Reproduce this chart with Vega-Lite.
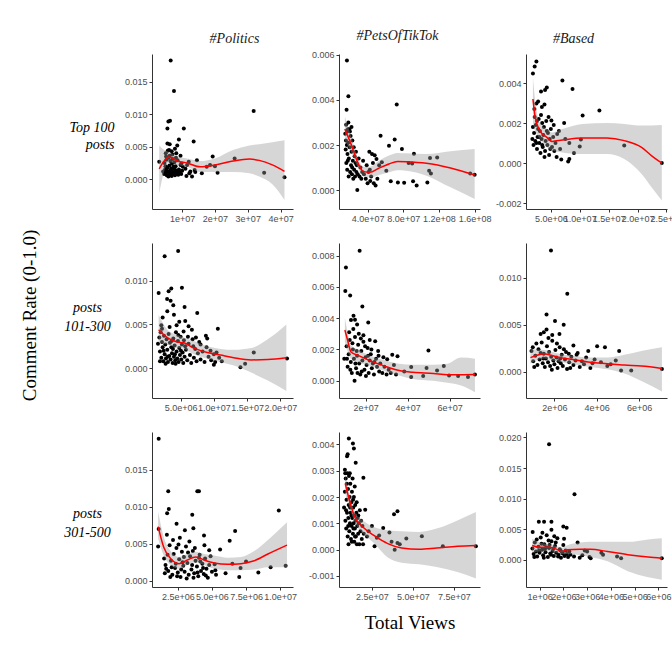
{
"$schema":"https://vega.github.io/schema/vega-lite/v6.json",
"background":"white",
"padding":{"left":20,"top":28,"right":0,"bottom":0},
"title":{"text":"Comment Rate (0-1.0)","orient":"left","anchor":"middle","font":"Liberation Serif","fontSize":19,"fontStyle":"normal","fontWeight":"normal","color":"black","offset":24,"dx":15},
"config":{"view":{"stroke":null},"axis":{"grid":false,"domainColor":"#333333","tickColor":"#333333","labelColor":"#4d4d4d","labelFont":"Liberation Sans","labelFontSize":9,"tickSize":3,"labelPadding":2,"labelFlush":false,"labelOverlap":false,"titleFont":"Liberation Serif","titleFontWeight":"normal","titleColor":"black"},"title":{"font":"Liberation Serif","fontStyle":"italic","fontSize":14,"fontWeight":"normal","color":"#1a1a1a","offset":8}},
"datasets":{
"p1":[{"x":6.5e6,"y":0.0183},{"x":7.5e6,"y":0.0136},{"x":3.18e7,"y":0.0105},{"x":1.05e7,"y":0.0078},{"x":5.5e6,"y":0.0078},{"x":6.3e6,"y":0.009},{"x":5.8e6,"y":0.0089},{"x":9e6,"y":0.0061},{"x":1.35e7,"y":0.0058},{"x":5.5e6,"y":0.0055},{"x":6.2e6,"y":0.0054},{"x":8.5e6,"y":0.0052},{"x":7.8e6,"y":0.0047},{"x":5.6e6,"y":0.0044},{"x":6.8e6,"y":0.0043},{"x":8.2e6,"y":0.004},{"x":9.5e6,"y":0.0036},{"x":1.45e7,"y":0.0029},{"x":1.6e7,"y":0.0009},{"x":1.75e7,"y":0.0019},{"x":1.85e7,"y":0.0022},{"x":1.93e7,"y":0.0035},{"x":2.0e7,"y":0.002},{"x":2.08e7,"y":0.001},{"x":2.6e7,"y":0.0032},{"x":3.5e7,"y":0.001},{"x":4.12e7,"y":0.0003},{"x":3.0e6,"y":0.0027},{"x":1.13e7,"y":0.0005},{"x":1.3e7,"y":0.0004},{"x":1.02e7,"y":0.0019},{"x":9.8e6,"y":0.0024},{"x":1.25e7,"y":0.0012},{"x":1.2e7,"y":0.0027},{"x":4.2e6,"y":0.0012},{"x":4.5e6,"y":0.0008},{"x":4.8e6,"y":0.0015},{"x":5.0e6,"y":0.001},{"x":5.2e6,"y":0.003},{"x":5.3e6,"y":0.0006},{"x":5.5e6,"y":0.0018},{"x":5.7e6,"y":0.0011},{"x":5.9e6,"y":0.0033},{"x":6.0e6,"y":0.0007},{"x":6.1e6,"y":0.0021},{"x":6.3e6,"y":0.0013},{"x":6.4e6,"y":0.0028},{"x":6.5e6,"y":0.0009},{"x":6.6e6,"y":0.0016},{"x":6.8e6,"y":0.0005},{"x":6.9e6,"y":0.0024},{"x":7.0e6,"y":0.0012},{"x":7.1e6,"y":0.0031},{"x":7.2e6,"y":0.0008},{"x":7.4e6,"y":0.0017},{"x":7.5e6,"y":0.001},{"x":7.6e6,"y":0.0026},{"x":7.8e6,"y":0.0006},{"x":7.9e6,"y":0.0014},{"x":8.0e6,"y":0.002},{"x":8.2e6,"y":0.0009},{"x":8.4e6,"y":0.0012},{"x":8.6e6,"y":0.0029},{"x":8.8e6,"y":0.0007},{"x":9.0e6,"y":0.0015},{"x":9.2e6,"y":0.0011},{"x":9.5e6,"y":0.0022},{"x":9.7e6,"y":0.0008},{"x":1.0e7,"y":0.0013},{"x":4.6e6,"y":0.0025},{"x":5.1e6,"y":0.0035},{"x":5.8e6,"y":0.0004},{"x":6.2e6,"y":0.0036},{"x":7.3e6,"y":0.0019},{"x":8.1e6,"y":0.0033},{"x":4.9e6,"y":0.002},{"x":5.4e6,"y":0.0013},{"x":6.7e6,"y":0.0011},{"x":7.7e6,"y":0.0009},{"x":1.1e7,"y":0.0016},{"x":1.15e7,"y":0.0022},{"x":1.22e7,"y":0.0009},{"x":1.38e7,"y":0.0014},{"x":1.4e7,"y":0.0011},{"x":5.0e6,"y":0.004},{"x":6.0e6,"y":0.0045},{"x":7.0e6,"y":0.0038}],
"f1":[{"x":3e6,"f":0.0016,"lo":-0.0022,"hi":0.0052},{"x":4.5e6,"f":0.0028,"lo":0.0012,"hi":0.0045},{"x":6e6,"f":0.0034,"lo":0.0026,"hi":0.0042},{"x":8.5e6,"f":0.0028,"lo":0.0022,"hi":0.0035},{"x":1.15e7,"f":0.0025,"lo":0.0019,"hi":0.0032},{"x":1.55e7,"f":0.0019,"lo":0.0011,"hi":0.0028},{"x":2.0e7,"f":0.0022,"lo":0.0011,"hi":0.0032},{"x":2.55e7,"f":0.0028,"lo":0.0011,"hi":0.0045},{"x":3.05e7,"f":0.0031,"lo":0.0009,"hi":0.0052},{"x":3.35e7,"f":0.0029,"lo":0.0004,"hi":0.0054},{"x":3.75e7,"f":0.0022,"lo":-0.0008,"hi":0.0057},{"x":4.12e7,"f":0.0012,"lo":-0.0032,"hi":0.006}],
"p2":[{"x":1.69e7,"y":0.00575},{"x":1.85e7,"y":0.00416},{"x":1.65e7,"y":0.00357},{"x":7.27e7,"y":0.0038},{"x":5.46e7,"y":0.00241},{"x":7.04e7,"y":0.00224},{"x":6.4e7,"y":0.00197},{"x":7.85e7,"y":0.00182},{"x":9.2e7,"y":0.00161},{"x":1.1e8,"y":0.00142},{"x":1.18e8,"y":0.00145},{"x":8.6e7,"y":0.0012},{"x":9e7,"y":0.00118},{"x":1.09e8,"y":0.00086},{"x":1.11e8,"y":0.00074},{"x":1.07e8,"y":0.00034},{"x":9.5e7,"y":0.0002},{"x":9.1e7,"y":0.00039},{"x":8.1e7,"y":0.00033},{"x":7.4e7,"y":0.00034},{"x":6.6e7,"y":0.00039},{"x":6.1e7,"y":0.00086},{"x":5.6e7,"y":0.00123},{"x":5e7,"y":0.00138},{"x":4.5e7,"y":0.0016},{"x":4.2e7,"y":0.0017},{"x":2.85e7,"y":0.0},{"x":1.6e8,"y":0.00068},{"x":1.55e8,"y":0.00074},{"x":4.8e7,"y":0.00155},{"x":5.3e7,"y":0.0011},{"x":4.6e7,"y":0.0012},{"x":1.5e7,"y":0.0025},{"x":1.55e7,"y":0.0018},{"x":1.6e7,"y":0.0029},{"x":1.62e7,"y":0.0012},{"x":1.7e7,"y":0.0026},{"x":1.72e7,"y":0.0009},{"x":1.75e7,"y":0.0016},{"x":1.8e7,"y":0.0027},{"x":1.83e7,"y":0.0021},{"x":1.88e7,"y":0.0006},{"x":1.9e7,"y":0.0014},{"x":1.95e7,"y":0.0027},{"x":2.0e7,"y":0.0019},{"x":2.05e7,"y":0.0008},{"x":2.1e7,"y":0.0024},{"x":2.15e7,"y":0.0011},{"x":2.2e7,"y":0.0017},{"x":2.25e7,"y":0.0007},{"x":2.3e7,"y":0.0022},{"x":2.35e7,"y":0.0013},{"x":2.4e7,"y":0.0005},{"x":2.45e7,"y":0.0019},{"x":2.5e7,"y":0.0009},{"x":2.55e7,"y":0.0015},{"x":2.6e7,"y":0.0006},{"x":2.65e7,"y":0.0012},{"x":2.7e7,"y":0.0017},{"x":2.75e7,"y":0.0008},{"x":2.8e7,"y":0.0011},{"x":2.9e7,"y":0.0007},{"x":3.0e7,"y":0.0014},{"x":3.1e7,"y":0.0006},{"x":3.2e7,"y":0.001},{"x":3.3e7,"y":0.0005},{"x":3.4e7,"y":0.0008},{"x":1.58e7,"y":0.0022},{"x":1.78e7,"y":0.0013},{"x":2.02e7,"y":0.0026},{"x":2.28e7,"y":0.001},{"x":1.68e7,"y":0.002},{"x":3.6e7,"y":0.0007},{"x":3.8e7,"y":0.0005},{"x":4.0e7,"y":0.0003},{"x":4.1e7,"y":0.0008},{"x":4.3e7,"y":0.0004},{"x":4.4e7,"y":0.0006},{"x":4.7e7,"y":0.0003},{"x":4.9e7,"y":0.0002},{"x":5.1e7,"y":0.0005},{"x":3.9e7,"y":0.0011},{"x":4.25e7,"y":0.0009},{"x":3.5e7,"y":0.0013},{"x":2.2e7,"y":0.0028},{"x":1.85e7,"y":0.003}],
"f2":[{"x":1.46e7,"f":0.00271,"lo":0.0022,"hi":0.00326},{"x":2.15e7,"f":0.00204,"lo":0.0017,"hi":0.0024},{"x":2.9e7,"f":0.00123,"lo":0.001,"hi":0.00145},{"x":3.5e7,"f":0.00083,"lo":0.00062,"hi":0.00105},{"x":4.27e7,"f":0.00079,"lo":0.00056,"hi":0.00104},{"x":5.2e7,"f":0.00096,"lo":0.00066,"hi":0.00128},{"x":6.4e7,"f":0.00116,"lo":0.00079,"hi":0.00153},{"x":7.35e7,"f":0.00127,"lo":0.00088,"hi":0.00165},{"x":8.3e7,"f":0.00126,"lo":0.00086,"hi":0.00163},{"x":1.06e8,"f":0.00119,"lo":0.00064,"hi":0.0016},{"x":1.33e8,"f":0.00098,"lo":0.00012,"hi":0.00172},{"x":1.6e8,"f":0.00067,"lo":-0.0004,"hi":0.00182}],
"p3":[{"x":2.5e6,"y":0.00508},{"x":2.2e6,"y":0.00482},{"x":1.9e6,"y":0.00448},{"x":7e6,"y":0.00412},{"x":4.3e6,"y":0.00378},{"x":4e6,"y":0.00365},{"x":8.75e6,"y":0.0037},{"x":3.3e6,"y":0.00357},{"x":2.8e6,"y":0.00308},{"x":2.5e6,"y":0.00298},{"x":3.9e6,"y":0.00292},{"x":1.34e7,"y":0.00262},{"x":1.05e7,"y":0.00237},{"x":7.3e6,"y":0.002},{"x":5.1e6,"y":0.00212},{"x":1.02e7,"y":0.00118},{"x":1e7,"y":0.00082},{"x":9e6,"y":0.0005},{"x":8.2e6,"y":0.0002},{"x":8e6,"y":0.00007},{"x":6.8e6,"y":0.00017},{"x":1.77e7,"y":0.00087},{"x":2.42e7,"y":0.0},{"x":6.1e6,"y":0.00145},{"x":6.4e6,"y":0.0016},{"x":8.2e6,"y":0.001},{"x":1.8e6,"y":0.0012},{"x":2.0e6,"y":0.0009},{"x":2.1e6,"y":0.0015},{"x":2.3e6,"y":0.0011},{"x":2.4e6,"y":0.0019},{"x":2.6e6,"y":0.0007},{"x":2.7e6,"y":0.0013},{"x":2.9e6,"y":0.0022},{"x":3.0e6,"y":0.001},{"x":3.1e6,"y":0.0016},{"x":3.2e6,"y":0.0005},{"x":3.4e6,"y":0.0012},{"x":3.5e6,"y":0.002},{"x":3.6e6,"y":0.0008},{"x":3.7e6,"y":0.0014},{"x":3.8e6,"y":0.0018},{"x":4.0e6,"y":0.0006},{"x":4.1e6,"y":0.0011},{"x":4.2e6,"y":0.0021},{"x":4.4e6,"y":0.0009},{"x":4.5e6,"y":0.0015},{"x":4.7e6,"y":0.0004},{"x":4.8e6,"y":0.0012},{"x":5.0e6,"y":0.0017},{"x":5.2e6,"y":0.0008},{"x":5.4e6,"y":0.0013},{"x":5.6e6,"y":0.0006},{"x":5.8e6,"y":0.001},{"x":6.0e6,"y":0.0003},{"x":2.2e6,"y":0.0023},{"x":2.8e6,"y":0.0017},{"x":3.3e6,"y":0.0024},{"x":3.9e6,"y":0.0003},{"x":4.6e6,"y":0.0023},{"x":1.9e6,"y":0.0018},{"x":2.5e6,"y":0.001},{"x":3.0e6,"y":0.0013},{"x":3.5e6,"y":0.0009},{"x":4.3e6,"y":0.0016},{"x":5.5e6,"y":0.0019},{"x":6.6e6,"y":0.0007},{"x":7.5e6,"y":0.0012},{"x":2.15e6,"y":0.0027},{"x":3.45e6,"y":0.0028},{"x":2.6e6,"y":0.0021},{"x":4.9e6,"y":0.0007}],
"f3":[{"x":1.9e6,"f":0.0032,"lo":0.002,"hi":0.00428},{"x":2.3e6,"f":0.00228,"lo":0.0016,"hi":0.0031},{"x":3.1e6,"f":0.00162,"lo":0.0012,"hi":0.002},{"x":4.3e6,"f":0.00128,"lo":0.0008,"hi":0.0017},{"x":5.2e6,"f":0.00108,"lo":0.00062,"hi":0.00153},{"x":7e6,"f":0.00115,"lo":0.00053,"hi":0.0017},{"x":1.05e7,"f":0.00125,"lo":0.00045,"hi":0.00195},{"x":1.47e7,"f":0.00125,"lo":0.00045,"hi":0.002},{"x":1.77e7,"f":0.00112,"lo":0.0002,"hi":0.00195},{"x":2.07e7,"f":0.00078,"lo":-0.00055,"hi":0.00187},{"x":2.24e7,"f":0.00037,"lo":-0.0012,"hi":0.00188},{"x":2.42e7,"f":0.0,"lo":-0.00188,"hi":0.0019}],
"p4":[{"x":4.63e6,"y":0.0134},{"x":2.6e6,"y":0.0128},{"x":1.7e6,"y":0.0086},{"x":5.2e6,"y":0.0092},{"x":3.6e6,"y":0.0091},{"x":3.2e6,"y":0.0088},{"x":2.97e6,"y":0.0079},{"x":3.5e6,"y":0.0077},{"x":5.6e6,"y":0.007},{"x":7.5e6,"y":0.0063},{"x":4e6,"y":0.0061},{"x":8.8e6,"y":0.0037},{"x":9.0e6,"y":0.0034},{"x":1.06e7,"y":0.0045},{"x":4.8e6,"y":0.0053},{"x":5.7e6,"y":0.0054},{"x":6.7e6,"y":0.0044},{"x":1e7,"y":0.0004},{"x":1.02e7,"y":0.0007},{"x":1.4e7,"y":0.0001},{"x":1.47e7,"y":0.0005},{"x":1.6e7,"y":0.0018},{"x":2.1e7,"y":0.0011},{"x":9.5e6,"y":0.002},{"x":1.04e7,"y":0.0018},{"x":8e6,"y":0.0027},{"x":3.0e6,"y":0.0065},{"x":3.9e6,"y":0.0072},{"x":2.3e6,"y":0.0058},{"x":4.4e6,"y":0.0049},{"x":6.2e6,"y":0.0048},{"x":2.1e6,"y":0.0049},{"x":1.6e6,"y":0.0028},{"x":1.8e6,"y":0.0035},{"x":1.9e6,"y":0.0019},{"x":2.0e6,"y":0.0041},{"x":2.1e6,"y":0.0012},{"x":2.2e6,"y":0.003},{"x":2.3e6,"y":0.0024},{"x":2.4e6,"y":0.0008},{"x":2.5e6,"y":0.0037},{"x":2.6e6,"y":0.0016},{"x":2.7e6,"y":0.0027},{"x":2.8e6,"y":0.0011},{"x":2.9e6,"y":0.0033},{"x":3.0e6,"y":0.0021},{"x":3.1e6,"y":0.0007},{"x":3.2e6,"y":0.0039},{"x":3.3e6,"y":0.0014},{"x":3.4e6,"y":0.0029},{"x":3.5e6,"y":0.001},{"x":3.6e6,"y":0.0024},{"x":3.7e6,"y":0.0017},{"x":3.8e6,"y":0.0006},{"x":3.9e6,"y":0.0034},{"x":4.0e6,"y":0.0013},{"x":4.1e6,"y":0.0026},{"x":4.2e6,"y":0.0009},{"x":4.3e6,"y":0.0041},{"x":4.4e6,"y":0.0019},{"x":4.5e6,"y":0.0011},{"x":4.6e6,"y":0.0031},{"x":4.7e6,"y":0.0007},{"x":4.8e6,"y":0.0023},{"x":4.9e6,"y":0.0015},{"x":5.0e6,"y":0.0036},{"x":5.1e6,"y":0.001},{"x":5.2e6,"y":0.0027},{"x":5.3e6,"y":0.0018},{"x":5.4e6,"y":0.0006},{"x":5.5e6,"y":0.0032},{"x":5.6e6,"y":0.0013},{"x":5.8e6,"y":0.0021},{"x":6.0e6,"y":0.0009},{"x":6.2e6,"y":0.0028},{"x":6.4e6,"y":0.0015},{"x":6.6e6,"y":0.0006},{"x":6.8e6,"y":0.0033},{"x":7.0e6,"y":0.0012},{"x":7.2e6,"y":0.0022},{"x":7.4e6,"y":0.0008},{"x":7.6e6,"y":0.0017},{"x":7.8e6,"y":0.003},{"x":8.0e6,"y":0.001},{"x":8.3e6,"y":0.0019},{"x":8.6e6,"y":0.0007},{"x":8.9e6,"y":0.0024},{"x":9.2e6,"y":0.0013},{"x":9.6e6,"y":0.0009},{"x":1.0e7,"y":0.0016},{"x":1.08e7,"y":0.0012},{"x":1.12e7,"y":0.0008},{"x":1.9e6,"y":0.0008},{"x":2.2e6,"y":0.0045},{"x":2.75e6,"y":0.0005},{"x":3.35e6,"y":0.0047},{"x":3.85e6,"y":0.0022},{"x":4.25e6,"y":0.0005},{"x":4.65e6,"y":0.0038},{"x":5.45e6,"y":0.0042},{"x":6.1e6,"y":0.0036},{"x":6.9e6,"y":0.0025},{"x":2.45e6,"y":0.002},{"x":3.05e6,"y":0.0013},{"x":3.65e6,"y":0.0031},{"x":4.15e6,"y":0.0016},{"x":5.05e6,"y":0.002},{"x":5.7e6,"y":0.0025},{"x":7.3e6,"y":0.0035}],
"f4":[{"x":1.7e6,"f":0.0044,"lo":0.0029,"hi":0.0061},{"x":3e6,"f":0.0035,"lo":0.0027,"hi":0.0044},{"x":4.5e6,"f":0.003,"lo":0.0023,"hi":0.0038},{"x":5.5e6,"f":0.0029,"lo":0.0022,"hi":0.0035},{"x":7e6,"f":0.0023,"lo":0.0016,"hi":0.0031},{"x":9e6,"f":0.0018,"lo":0.0011,"hi":0.0025},{"x":1.1e7,"f":0.0015,"lo":0.0007,"hi":0.0022},{"x":1.3e7,"f":0.0012,"lo":0.0003,"hi":0.0021},{"x":1.56e7,"f":0.00095,"lo":-0.0005,"hi":0.0023},{"x":1.81e7,"f":0.001,"lo":-0.0014,"hi":0.0033},{"x":2.09e7,"f":0.0012,"lo":-0.0026,"hi":0.005}],
"p5":[{"x":1.72e7,"y":0.0083},{"x":1.07e7,"y":0.00724},{"x":1.04e7,"y":0.00574},{"x":1.27e7,"y":0.00544},{"x":1.85e7,"y":0.00474},{"x":2.13e7,"y":0.00373},{"x":1.43e7,"y":0.00416},{"x":1.31e7,"y":0.00388},{"x":1.5e7,"y":0.0039},{"x":1.6e7,"y":0.0036},{"x":4.99e7,"y":0.00193},{"x":2.46e7,"y":0.00253},{"x":3.52e7,"y":0.00156},{"x":3.27e7,"y":0.00167},{"x":3.03e7,"y":0.00137},{"x":5.72e7,"y":0.00094},{"x":4.9e7,"y":0.00081},{"x":5.4e7,"y":0.00066},{"x":4.17e7,"y":0.00088},{"x":3.84e7,"y":0.0006},{"x":6.4e7,"y":0.0003},{"x":6.87e7,"y":0.00024},{"x":7.2e7,"y":0.0004},{"x":5.97e7,"y":0.00034},{"x":4.74e7,"y":0.0003},{"x":4.17e7,"y":0.00024},{"x":1.48e7,"y":0.0},{"x":0.99e7,"y":0.0014},{"x":1.9e7,"y":0.0029},{"x":2.2e7,"y":0.0026},{"x":2.6e7,"y":0.0019},{"x":2.85e7,"y":0.0015},{"x":1.1e7,"y":0.0022},{"x":1.15e7,"y":0.0009},{"x":1.2e7,"y":0.0017},{"x":1.25e7,"y":0.0026},{"x":1.3e7,"y":0.0012},{"x":1.35e7,"y":0.0005},{"x":1.4e7,"y":0.002},{"x":1.45e7,"y":0.0014},{"x":1.5e7,"y":0.0028},{"x":1.55e7,"y":0.0008},{"x":1.6e7,"y":0.0016},{"x":1.65e7,"y":0.0023},{"x":1.7e7,"y":0.0011},{"x":1.75e7,"y":0.0004},{"x":1.8e7,"y":0.0019},{"x":1.85e7,"y":0.0013},{"x":1.9e7,"y":0.0025},{"x":1.95e7,"y":0.0007},{"x":2.0e7,"y":0.0015},{"x":2.05e7,"y":0.001},{"x":2.1e7,"y":0.0021},{"x":2.15e7,"y":0.0005},{"x":2.2e7,"y":0.0013},{"x":2.25e7,"y":0.0017},{"x":2.3e7,"y":0.0008},{"x":2.35e7,"y":0.0011},{"x":2.4e7,"y":0.0004},{"x":2.5e7,"y":0.0014},{"x":2.55e7,"y":0.0009},{"x":2.65e7,"y":0.0006},{"x":2.7e7,"y":0.0011},{"x":2.8e7,"y":0.0005},{"x":2.9e7,"y":0.0009},{"x":3.0e7,"y":0.0004},{"x":3.1e7,"y":0.0007},{"x":3.2e7,"y":0.0005},{"x":3.35e7,"y":0.001},{"x":3.45e7,"y":0.0004},{"x":1.22e7,"y":0.0031},{"x":1.38e7,"y":0.0024},{"x":1.52e7,"y":0.0011},{"x":1.68e7,"y":0.003},{"x":1.82e7,"y":0.0006},{"x":1.98e7,"y":0.0022},{"x":2.12e7,"y":0.0016},{"x":2.28e7,"y":0.002},{"x":1.12e7,"y":0.0014},{"x":1.28e7,"y":0.0007},{"x":1.58e7,"y":0.0019},{"x":1.78e7,"y":0.0027},{"x":2.02e7,"y":0.0003},{"x":2.42e7,"y":0.0012},{"x":2.62e7,"y":0.0016},{"x":1.42e7,"y":0.0033},{"x":1.62e7,"y":0.0005}],
"f5":[{"x":1.02e7,"f":0.00324,"lo":0.00249,"hi":0.00403},{"x":1.15e7,"f":0.00259,"lo":0.0019,"hi":0.0031},{"x":1.31e7,"f":0.00184,"lo":0.00141,"hi":0.00227},{"x":1.64e7,"f":0.00163,"lo":0.0012,"hi":0.002},{"x":2.29e7,"f":0.00124,"lo":0.00092,"hi":0.00156},{"x":2.95e7,"f":0.00092,"lo":0.0006,"hi":0.0013},{"x":3.6e7,"f":0.00066,"lo":0.00034,"hi":0.00109},{"x":4.25e7,"f":0.00054,"lo":0.00012,"hi":0.00103},{"x":5.23e7,"f":0.00047,"lo":0.0,"hi":0.00103},{"x":5.89e7,"f":0.00039,"lo":-0.00013,"hi":0.00109},{"x":6.54e7,"f":0.00039,"lo":-0.0003,"hi":0.00148},{"x":7.2e7,"f":0.0004,"lo":-0.00073,"hi":0.00141}],
"p6":[{"x":1.84e6,"y":0.0129},{"x":2.61e6,"y":0.0083},{"x":1.63e6,"y":0.0061},{"x":2.03e6,"y":0.0054},{"x":2.44e6,"y":0.005},{"x":1.63e6,"y":0.0045},{"x":1.35e6,"y":0.004},{"x":2.24e6,"y":0.004},{"x":4.02e6,"y":0.0027},{"x":4.39e6,"y":0.0026},{"x":5.06e6,"y":0.0022},{"x":5.15e6,"y":0.00014},{"x":5.63e6,"y":0.00014},{"x":7.08e6,"y":0.0003},{"x":3.6e6,"y":0.0022},{"x":0.98e6,"y":0.0026},{"x":0.92e6,"y":0.0022},{"x":3.7e6,"y":0.0004},{"x":4.2e6,"y":0.001},{"x":4.66e6,"y":0.0008},{"x":4.9e6,"y":0.0012},{"x":1.5e6,"y":0.0042},{"x":1.9e6,"y":0.0039},{"x":2.9e6,"y":0.0028},{"x":1.0e6,"y":0.0011},{"x":1.1e6,"y":0.0017},{"x":1.2e6,"y":0.0007},{"x":1.25e6,"y":0.0024},{"x":1.3e6,"y":0.0013},{"x":1.4e6,"y":0.0031},{"x":1.45e6,"y":0.0009},{"x":1.5e6,"y":0.0019},{"x":1.55e6,"y":0.0005},{"x":1.6e6,"y":0.0014},{"x":1.65e6,"y":0.0027},{"x":1.7e6,"y":0.001},{"x":1.75e6,"y":0.0021},{"x":1.8e6,"y":0.0006},{"x":1.85e6,"y":0.0016},{"x":1.9e6,"y":0.0033},{"x":1.95e6,"y":0.0012},{"x":2.0e6,"y":0.0008},{"x":2.05e6,"y":0.0023},{"x":2.1e6,"y":0.0015},{"x":2.15e6,"y":0.0004},{"x":2.2e6,"y":0.0011},{"x":2.25e6,"y":0.0026},{"x":2.3e6,"y":0.0009},{"x":2.35e6,"y":0.0018},{"x":2.4e6,"y":0.0006},{"x":2.5e6,"y":0.0013},{"x":2.55e6,"y":0.0021},{"x":2.6e6,"y":0.0003},{"x":2.7e6,"y":0.001},{"x":2.8e6,"y":0.0016},{"x":2.9e6,"y":0.0007},{"x":3.0e6,"y":0.0012},{"x":3.1e6,"y":0.002},{"x":3.2e6,"y":0.0005},{"x":3.3e6,"y":0.0011},{"x":3.4e6,"y":0.0008},{"x":3.5e6,"y":0.0015},{"x":1.15e6,"y":0.003},{"x":1.35e6,"y":0.002},{"x":1.72e6,"y":0.0036},{"x":2.12e6,"y":0.003},{"x":2.45e6,"y":0.0024},{"x":2.75e6,"y":0.0004},{"x":3.05e6,"y":0.0018},{"x":1.05e6,"y":0.0005},{"x":1.48e6,"y":0.0014},{"x":1.88e6,"y":0.0002},{"x":2.28e6,"y":0.0014},{"x":2.68e6,"y":0.0019},{"x":3.8e6,"y":0.0009},{"x":3.9e6,"y":0.0013},{"x":4.5e6,"y":0.0006}],
"f6":[{"x":0.87e6,"f":0.0015,"lo":0.00085,"hi":0.0024},{"x":1.27e6,"f":0.0018,"lo":0.0013,"hi":0.00235},{"x":1.52e6,"f":0.0019,"lo":0.0014,"hi":0.0023},{"x":1.76e6,"f":0.0018,"lo":0.00125,"hi":0.0022},{"x":2.08e6,"f":0.0016,"lo":0.0011,"hi":0.002},{"x":2.89e6,"f":0.0013,"lo":0.0008,"hi":0.0017},{"x":3.69e6,"f":0.001,"lo":0.0005,"hi":0.0015},{"x":4.5e6,"f":0.00085,"lo":0.00025,"hi":0.0015},{"x":5.31e6,"f":0.0007,"lo":-0.0002,"hi":0.0018},{"x":6.11e6,"f":0.0006,"lo":-0.001,"hi":0.0022},{"x":7.08e6,"f":0.00035,"lo":-0.0021,"hi":0.0026}],
"p7":[{"x":1.1e6,"y":0.0192},{"x":1.8e6,"y":0.0121},{"x":1.84e6,"y":0.0097},{"x":1.72e6,"y":0.0091},{"x":3.93e6,"y":0.0121},{"x":4.05e6,"y":0.0121},{"x":3.56e6,"y":0.0089},{"x":2.41e6,"y":0.0077},{"x":3.64e6,"y":0.0071},{"x":3.02e6,"y":0.0068},{"x":9.9e6,"y":0.0095},{"x":6.7e6,"y":0.0067},{"x":6.3e6,"y":0.0054},{"x":4.42e6,"y":0.0061},{"x":5.6e6,"y":0.0042},{"x":1.1e6,"y":0.007},{"x":1.06e6,"y":0.0046},{"x":1.04e7,"y":0.002},{"x":9.3e6,"y":0.0018},{"x":8.4e6,"y":0.0011},{"x":7.1e6,"y":0.0017},{"x":7.0e6,"y":0.0005},{"x":6.0e6,"y":0.001},{"x":5.2e6,"y":0.0022},{"x":5.3e6,"y":0.0008},{"x":5.25e6,"y":0.0014},{"x":7.5e6,"y":0.0026},{"x":6.5e6,"y":0.0023},{"x":4.8e6,"y":0.0041},{"x":4.9e6,"y":0.0033},{"x":1.5e6,"y":0.003},{"x":1.6e6,"y":0.0021},{"x":1.7e6,"y":0.0062},{"x":1.8e6,"y":0.0013},{"x":1.9e6,"y":0.0048},{"x":2.0e6,"y":0.0027},{"x":2.1e6,"y":0.0008},{"x":2.2e6,"y":0.0036},{"x":2.3e6,"y":0.0017},{"x":2.4e6,"y":0.0044},{"x":2.5e6,"y":0.0011},{"x":2.6e6,"y":0.0029},{"x":2.7e6,"y":0.0005},{"x":2.8e6,"y":0.0039},{"x":2.9e6,"y":0.002},{"x":3.0e6,"y":0.0012},{"x":3.1e6,"y":0.0046},{"x":3.2e6,"y":0.0024},{"x":3.3e6,"y":0.0008},{"x":3.4e6,"y":0.0033},{"x":3.5e6,"y":0.0015},{"x":3.6e6,"y":0.004},{"x":3.7e6,"y":0.001},{"x":3.8e6,"y":0.0027},{"x":3.9e6,"y":0.0019},{"x":4.0e6,"y":0.0006},{"x":4.1e6,"y":0.0035},{"x":4.2e6,"y":0.0013},{"x":4.3e6,"y":0.0023},{"x":4.4e6,"y":0.0009},{"x":4.5e6,"y":0.003},{"x":4.6e6,"y":0.0016},{"x":4.7e6,"y":0.0004},{"x":4.8e6,"y":0.0021},{"x":5.0e6,"y":0.0012},{"x":1.55e6,"y":0.001},{"x":1.75e6,"y":0.0035},{"x":1.95e6,"y":0.0005},{"x":2.15e6,"y":0.0055},{"x":2.35e6,"y":0.0023},{"x":2.55e6,"y":0.0049},{"x":2.75e6,"y":0.0015},{"x":2.95e6,"y":0.0032},{"x":3.15e6,"y":0.0003},{"x":3.35e6,"y":0.0053},{"x":3.55e6,"y":0.0021},{"x":3.75e6,"y":0.0044},{"x":3.95e6,"y":0.0011},{"x":4.15e6,"y":0.0026},{"x":4.35e6,"y":0.0017},{"x":4.55e6,"y":0.0007},{"x":2.05e6,"y":0.0018},{"x":2.45e6,"y":0.0006},{"x":2.85e6,"y":0.0025},{"x":3.25e6,"y":0.0038},{"x":3.65e6,"y":0.0004},{"x":4.05e6,"y":0.0031},{"x":4.45e6,"y":0.0048},{"x":2.65e6,"y":0.0058},{"x":1.65e6,"y":0.0016}],
"f7":[{"x":1.06e6,"f":0.0073,"lo":0.0057,"hi":0.0093},{"x":1.47e6,"f":0.0045,"lo":0.0034,"hi":0.0059},{"x":1.97e6,"f":0.003,"lo":0.0021,"hi":0.004},{"x":2.58e6,"f":0.0023,"lo":0.0016,"hi":0.0032},{"x":3.2e6,"f":0.0028,"lo":0.0021,"hi":0.0036},{"x":3.81e6,"f":0.0032,"lo":0.0025,"hi":0.0039},{"x":4.42e6,"f":0.0028,"lo":0.0021,"hi":0.0036},{"x":5.16e6,"f":0.0024,"lo":0.0016,"hi":0.0034},{"x":6.15e6,"f":0.0022,"lo":0.0014,"hi":0.0031},{"x":7.13e6,"f":0.0023,"lo":0.0014,"hi":0.0032},{"x":8.1e6,"f":0.0027,"lo":0.0015,"hi":0.004},{"x":9.1e6,"f":0.0036,"lo":0.0018,"hi":0.0055},{"x":1.05e7,"f":0.0048,"lo":0.0018,"hi":0.0079}],
"p8":[{"x":1.09e7,"y":0.00422},{"x":1.34e7,"y":0.00403},{"x":1.4e7,"y":0.00384},{"x":1.02e7,"y":0.00362},{"x":0.98e7,"y":0.00355},{"x":1.51e7,"y":0.0033},{"x":0.85e7,"y":0.00304},{"x":1.98e7,"y":0.00273},{"x":4.06e7,"y":0.00146},{"x":3.85e7,"y":0.00134},{"x":3.19e7,"y":0.00082},{"x":3.57e7,"y":0.00065},{"x":5.55e7,"y":0.00051},{"x":4.6e7,"y":0.00042},{"x":4.06e7,"y":0.00025},{"x":3.89e7,"y":0.0},{"x":6.83e7,"y":0.00013},{"x":8.85e7,"y":0.00013},{"x":2.66e7,"y":0.00013},{"x":2.94e7,"y":0.00054},{"x":2.8e7,"y":0.00045},{"x":2.09e7,"y":0.00152},{"x":2.5e7,"y":0.0009},{"x":4.2e7,"y":0.0002},{"x":3.7e7,"y":0.0003},{"x":0.8e7,"y":0.0016},{"x":0.85e7,"y":0.0022},{"x":0.88e7,"y":0.0011},{"x":0.9e7,"y":0.0027},{"x":0.93e7,"y":0.0008},{"x":0.95e7,"y":0.0019},{"x":0.98e7,"y":0.0014},{"x":1.0e7,"y":0.0029},{"x":1.02e7,"y":0.0005},{"x":1.04e7,"y":0.0023},{"x":1.06e7,"y":0.0012},{"x":1.08e7,"y":0.0017},{"x":1.1e7,"y":0.0028},{"x":1.12e7,"y":0.0007},{"x":1.14e7,"y":0.002},{"x":1.16e7,"y":0.001},{"x":1.18e7,"y":0.0025},{"x":1.2e7,"y":0.0014},{"x":1.22e7,"y":0.0004},{"x":1.24e7,"y":0.0018},{"x":1.26e7,"y":0.0009},{"x":1.28e7,"y":0.0022},{"x":1.3e7,"y":0.0012},{"x":1.32e7,"y":0.0027},{"x":1.34e7,"y":0.0006},{"x":1.36e7,"y":0.0016},{"x":1.38e7,"y":0.001},{"x":1.4e7,"y":0.002},{"x":1.42e7,"y":0.0003},{"x":1.44e7,"y":0.0013},{"x":1.46e7,"y":0.0008},{"x":1.48e7,"y":0.0017},{"x":1.5e7,"y":0.0011},{"x":1.52e7,"y":0.0005},{"x":1.55e7,"y":0.0014},{"x":1.58e7,"y":0.0002},{"x":1.6e7,"y":0.0009},{"x":1.63e7,"y":0.0012},{"x":1.66e7,"y":0.0006},{"x":1.7e7,"y":0.001},{"x":1.73e7,"y":0.0002},{"x":1.76e7,"y":0.0015},{"x":1.8e7,"y":0.0007},{"x":1.84e7,"y":0.0011},{"x":1.88e7,"y":0.0004},{"x":1.92e7,"y":0.0009},{"x":1.96e7,"y":0.0002},{"x":2.0e7,"y":0.0006},{"x":0.87e7,"y":0.0029},{"x":0.92e7,"y":0.0015},{"x":0.97e7,"y":0.0025},{"x":1.05e7,"y":0.0009},{"x":1.15e7,"y":0.0029},{"x":1.25e7,"y":0.0013},{"x":1.35e7,"y":0.0019},{"x":1.45e7,"y":0.0024},{"x":1.07e7,"y":0.0002},{"x":1.17e7,"y":0.0016},{"x":1.27e7,"y":0.0003},{"x":1.37e7,"y":0.0008},{"x":1.47e7,"y":0.0005},{"x":1.57e7,"y":0.0018},{"x":1.67e7,"y":0.0013},{"x":2.2e7,"y":0.0005},{"x":2.3e7,"y":0.0007}],
"f8":[{"x":0.87e7,"f":0.00251,"lo":0.00213,"hi":0.00282},{"x":1.13e7,"f":0.00187,"lo":0.0016,"hi":0.0021},{"x":1.45e7,"f":0.00124,"lo":0.00105,"hi":0.00143},{"x":1.98e7,"f":0.00084,"lo":0.0006,"hi":0.0011},{"x":2.62e7,"f":0.00054,"lo":0.00025,"hi":0.00086},{"x":3.47e7,"f":0.00023,"lo":-0.0003,"hi":0.00074},{"x":4.32e7,"f":0.00006,"lo":-0.0005,"hi":0.0007},{"x":5.38e7,"f":0.00001,"lo":-0.00056,"hi":0.00067},{"x":6.45e7,"f":0.00006,"lo":-0.00066,"hi":0.0008},{"x":7.72e7,"f":0.00013,"lo":-0.00085,"hi":0.00111},{"x":8.85e7,"f":0.00016,"lo":-0.0011,"hi":0.00143}],
"p9":[{"x":1.4e6,"y":0.0189},{"x":2.47e6,"y":0.0107},{"x":0.97e6,"y":0.0062},{"x":1.19e6,"y":0.0062},{"x":1.5e6,"y":0.0062},{"x":2e6,"y":0.0054},{"x":2.14e6,"y":0.0052},{"x":0.71e6,"y":0.0045},{"x":1.5e6,"y":0.0049},{"x":2.6e6,"y":0.0028},{"x":2.03e6,"y":0.0034},{"x":3.6e6,"y":0.0011},{"x":3.67e6,"y":0.0008},{"x":4.26e6,"y":0.0005},{"x":4.43e6,"y":0.0002},{"x":6.14e6,"y":0.0002},{"x":3e6,"y":0.0013},{"x":3.1e6,"y":0.0004},{"x":3.15e6,"y":0.0002},{"x":2.69e6,"y":0.0003},{"x":2.8e6,"y":0.0007},{"x":2.3e6,"y":0.0008},{"x":2.9e6,"y":0.0015},{"x":0.7e6,"y":0.0018},{"x":0.75e6,"y":0.0009},{"x":0.8e6,"y":0.0028},{"x":0.85e6,"y":0.0013},{"x":0.9e6,"y":0.0005},{"x":0.95e6,"y":0.0021},{"x":1.0e6,"y":0.0011},{"x":1.05e6,"y":0.0036},{"x":1.1e6,"y":0.0016},{"x":1.15e6,"y":0.0007},{"x":1.2e6,"y":0.0025},{"x":1.25e6,"y":0.0012},{"x":1.3e6,"y":0.004},{"x":1.35e6,"y":0.0004},{"x":1.4e6,"y":0.0019},{"x":1.45e6,"y":0.001},{"x":1.5e6,"y":0.003},{"x":1.55e6,"y":0.0014},{"x":1.6e6,"y":0.0006},{"x":1.65e6,"y":0.0022},{"x":1.7e6,"y":0.0011},{"x":1.75e6,"y":0.0035},{"x":1.8e6,"y":0.0008},{"x":1.85e6,"y":0.0017},{"x":1.9e6,"y":0.0003},{"x":1.95e6,"y":0.0012},{"x":2.0e6,"y":0.0024},{"x":2.05e6,"y":0.0006},{"x":2.1e6,"y":0.0015},{"x":2.15e6,"y":0.0009},{"x":2.2e6,"y":0.0004},{"x":2.25e6,"y":0.0013},{"x":0.88e6,"y":0.0033},{"x":1.08e6,"y":0.0026},{"x":1.28e6,"y":0.002},{"x":1.48e6,"y":0.0008},{"x":1.68e6,"y":0.0028},{"x":1.88e6,"y":0.0015},{"x":0.78e6,"y":0.0004},{"x":0.98e6,"y":0.0015},{"x":1.18e6,"y":0.0003},{"x":1.38e6,"y":0.0031},{"x":1.58e6,"y":0.0018},{"x":1.78e6,"y":0.0005},{"x":1.98e6,"y":0.001},{"x":1.12e6,"y":0.0044},{"x":1.62e6,"y":0.0038},{"x":1.42e6,"y":0.0024},{"x":1.22e6,"y":0.0017},{"x":2.45e6,"y":0.0005}],
"f9":[{"x":0.69e6,"f":0.0023,"lo":0.0011,"hi":0.0034},{"x":1e6,"f":0.002,"lo":0.0013,"hi":0.0028},{"x":1.43e6,"f":0.002,"lo":0.0014,"hi":0.0025},{"x":1.71e6,"f":0.0017,"lo":0.0011,"hi":0.0022},{"x":1.93e6,"f":0.0013,"lo":0.0009,"hi":0.0019},{"x":2.14e6,"f":0.0016,"lo":0.0009,"hi":0.0023},{"x":2.71e6,"f":0.0017,"lo":0.0007,"hi":0.0028},{"x":3.14e6,"f":0.0017,"lo":0.0004,"hi":0.0029},{"x":3.86e6,"f":0.0013,"lo":-0.0003,"hi":0.0029},{"x":4.71e6,"f":0.0008,"lo":-0.0019,"hi":0.0029},{"x":5.57e6,"f":0.0004,"lo":-0.0029,"hi":0.0033},{"x":6.14e6,"f":0.0002,"lo":-0.0033,"hi":0.0035}]
},
"concat":[
{"width":141,"height":155,"title":{"text":"#Politics","dx":12},"layer":[
 {"data":{"name":"p1"},"mark":{"type":"circle","size":16,"color":"black","opacity":1},"encoding":{"x":{"field":"x","type":"quantitative","scale":{"domain":[800000,43800000],"nice":false,"zero":false},"axis":{"values":[1e7,2e7,3e7,4e7],"tickCount":12,"labelOverlap":false,"labelExpr":"replace(format(datum.value,'.0e'),'e+','e+0')","title":null}},"y":{"field":"y","type":"quantitative","scale":{"domain":[-0.0046,0.0193],"nice":false,"zero":false},"axis":{"values":[0,0.005,0.01,0.015],"tickCount":12,"labelOverlap":false,"format":".3f","title":["Top 100","posts"],"titleAngle":0,"titleAlign":"right","titleBaseline":"middle","titleX":-38,"titleY":73,"titleFontStyle":"italic","titleFontSize":14,"titleLineHeight":17}}}},
 {"data":{"name":"f1"},"mark":{"type":"area","color":"#999999","opacity":0.4,"interpolate":"monotone"},"encoding":{"x":{"field":"x","type":"quantitative"},"y":{"field":"lo","type":"quantitative"},"y2":{"field":"hi"}}},
 {"data":{"name":"f1"},"mark":{"type":"line","color":"red","strokeWidth":1.5,"interpolate":"monotone"},"encoding":{"x":{"field":"x","type":"quantitative"},"y":{"field":"f","type":"quantitative"}}}]},
{"width":141,"height":155,"title":{"text":"#PetsOfTikTok","dx":-12},"layer":[
 {"data":{"name":"p2"},"mark":{"type":"circle","size":16,"color":"black","opacity":1},"encoding":{"x":{"field":"x","type":"quantitative","scale":{"domain":[8000000,166000000],"nice":false,"zero":false},"axis":{"values":[4e7,8e7,1.2e8,1.6e8],"tickCount":12,"labelOverlap":false,"labelExpr":"replace(format(datum.value,'.1e'),'e+','e+0')","title":null}},"y":{"field":"y","type":"quantitative","scale":{"domain":[-0.00084,0.00604],"nice":false,"zero":false},"axis":{"values":[0,0.002,0.004,0.006],"tickCount":12,"labelOverlap":false,"format":".3f","title":null}}}},
 {"data":{"name":"f2"},"mark":{"type":"area","color":"#999999","opacity":0.4,"interpolate":"monotone"},"encoding":{"x":{"field":"x","type":"quantitative"},"y":{"field":"lo","type":"quantitative"},"y2":{"field":"hi"}}},
 {"data":{"name":"f2"},"mark":{"type":"line","color":"red","strokeWidth":1.5,"interpolate":"monotone"},"encoding":{"x":{"field":"x","type":"quantitative"},"y":{"field":"f","type":"quantitative"}}}]},
{"width":141,"height":155,"title":{"text":"#Based","dx":-23},"layer":[
 {"data":{"name":"p3"},"mark":{"type":"circle","size":16,"color":"black","opacity":1},"encoding":{"x":{"field":"x","type":"quantitative","scale":{"domain":[700000,25100000],"nice":false,"zero":false},"axis":{"values":[5e6,1e7,1.5e7,2e7,2.5e7],"tickCount":12,"labelOverlap":false,"labelExpr":"replace(format(datum.value,'.1e'),'e+','e+0')","title":null}},"y":{"field":"y","type":"quantitative","scale":{"domain":[-0.0023,0.00545],"nice":false,"zero":false},"axis":{"values":[-0.002,0,0.002,0.004],"tickCount":12,"labelOverlap":false,"labelExpr":"replace(format(datum.value,'.3f'),'−','-')","title":null}}}},
 {"data":{"name":"f3"},"mark":{"type":"area","color":"#999999","opacity":0.4,"interpolate":"monotone"},"encoding":{"x":{"field":"x","type":"quantitative"},"y":{"field":"lo","type":"quantitative"},"y2":{"field":"hi"}}},
 {"data":{"name":"f3"},"mark":{"type":"line","color":"red","strokeWidth":1.5,"interpolate":"monotone"},"encoding":{"x":{"field":"x","type":"quantitative"},"y":{"field":"f","type":"quantitative"}}}]},
{"width":141,"height":155,"layer":[
 {"data":{"name":"p4"},"mark":{"type":"circle","size":16,"color":"black","opacity":1},"encoding":{"x":{"field":"x","type":"quantitative","scale":{"domain":[700000,21900000],"nice":false,"zero":false},"axis":{"values":[5e6,1e7,1.5e7,2e7],"tickCount":12,"labelOverlap":false,"labelExpr":"replace(format(datum.value,'.1e'),'e+','e+0')","title":null}},"y":{"field":"y","type":"quantitative","scale":{"domain":[-0.0034,0.0143],"nice":false,"zero":false},"axis":{"values":[0,0.005,0.01],"tickCount":12,"labelOverlap":false,"format":".3f","title":["posts","101-300"],"titleAngle":0,"titleAlign":"center","titleBaseline":"middle","titleX":-65,"titleY":64,"titleFontStyle":"italic","titleFontSize":14,"titleLineHeight":19}}}},
 {"data":{"name":"f4"},"mark":{"type":"area","color":"#999999","opacity":0.4,"interpolate":"monotone"},"encoding":{"x":{"field":"x","type":"quantitative"},"y":{"field":"lo","type":"quantitative"},"y2":{"field":"hi"}}},
 {"data":{"name":"f4"},"mark":{"type":"line","color":"red","strokeWidth":1.5,"interpolate":"monotone"},"encoding":{"x":{"field":"x","type":"quantitative"},"y":{"field":"f","type":"quantitative"}}}]},
{"width":141,"height":155,"layer":[
 {"data":{"name":"p5"},"mark":{"type":"circle","size":16,"color":"black","opacity":1},"encoding":{"x":{"field":"x","type":"quantitative","scale":{"domain":[7400000,74400000],"nice":false,"zero":false},"axis":{"values":[2e7,4e7,6e7],"tickCount":12,"labelOverlap":false,"labelExpr":"replace(format(datum.value,'.0e'),'e+','e+0')","title":null}},"y":{"field":"y","type":"quantitative","scale":{"domain":[-0.0011,0.0088],"nice":false,"zero":false},"axis":{"values":[0,0.002,0.004,0.006,0.008],"tickCount":12,"labelOverlap":false,"format":".3f","title":null}}}},
 {"data":{"name":"f5"},"mark":{"type":"area","color":"#999999","opacity":0.4,"interpolate":"monotone"},"encoding":{"x":{"field":"x","type":"quantitative"},"y":{"field":"lo","type":"quantitative"},"y2":{"field":"hi"}}},
 {"data":{"name":"f5"},"mark":{"type":"line","color":"red","strokeWidth":1.5,"interpolate":"monotone"},"encoding":{"x":{"field":"x","type":"quantitative"},"y":{"field":"f","type":"quantitative"}}}]},
{"width":141,"height":155,"layer":[
 {"data":{"name":"p6"},"mark":{"type":"circle","size":16,"color":"black","opacity":1},"encoding":{"x":{"field":"x","type":"quantitative","scale":{"domain":[660000,7320000],"nice":false,"zero":false},"axis":{"values":[2e6,4e6,6e6],"tickCount":12,"labelOverlap":false,"labelExpr":"replace(format(datum.value,'.0e'),'e+','e+0')","title":null}},"y":{"field":"y","type":"quantitative","scale":{"domain":[-0.0028,0.0137],"nice":false,"zero":false},"axis":{"values":[0,0.005,0.01],"tickCount":12,"labelOverlap":false,"format":".3f","title":null}}}},
 {"data":{"name":"f6"},"mark":{"type":"area","color":"#999999","opacity":0.4,"interpolate":"monotone"},"encoding":{"x":{"field":"x","type":"quantitative"},"y":{"field":"lo","type":"quantitative"},"y2":{"field":"hi"}}},
 {"data":{"name":"f6"},"mark":{"type":"line","color":"red","strokeWidth":1.5,"interpolate":"monotone"},"encoding":{"x":{"field":"x","type":"quantitative"},"y":{"field":"f","type":"quantitative"}}}]},
{"width":141,"height":155,"layer":[
 {"data":{"name":"p7"},"mark":{"type":"circle","size":16,"color":"black","opacity":1},"encoding":{"x":{"field":"x","type":"quantitative","scale":{"domain":[610000,10940000],"nice":false,"zero":false},"axis":{"values":[2.5e6,5e6,7.5e6,1e7],"tickCount":12,"labelOverlap":false,"labelExpr":"replace(format(datum.value,'.1e'),'e+','e+0')","title":null}},"y":{"field":"y","type":"quantitative","scale":{"domain":[-0.00086,0.0201],"nice":false,"zero":false},"axis":{"values":[0,0.005,0.01,0.015],"tickCount":12,"labelOverlap":false,"format":".3f","title":["posts","301-500"],"titleAngle":0,"titleAlign":"center","titleBaseline":"middle","titleX":-65,"titleY":81,"titleFontStyle":"italic","titleFontSize":14,"titleLineHeight":19}}}},
 {"data":{"name":"f7"},"mark":{"type":"area","color":"#999999","opacity":0.4,"interpolate":"monotone"},"encoding":{"x":{"field":"x","type":"quantitative"},"y":{"field":"lo","type":"quantitative"},"y2":{"field":"hi"}}},
 {"data":{"name":"f7"},"mark":{"type":"line","color":"red","strokeWidth":1.5,"interpolate":"monotone"},"encoding":{"x":{"field":"x","type":"quantitative"},"y":{"field":"f","type":"quantitative"}}}]},
{"width":141,"height":155,"layer":[
 {"data":{"name":"p8"},"mark":{"type":"circle","size":16,"color":"black","opacity":1},"encoding":{"x":{"field":"x","type":"quantitative","scale":{"domain":[4900000,91000000],"nice":false,"zero":false},"axis":{"values":[2.5e7,5e7,7.5e7],"tickCount":12,"labelOverlap":false,"labelExpr":"replace(format(datum.value,'.1e'),'e+','e+0')","title":"Total Views","titleFontSize":19,"titlePadding":12}},"y":{"field":"y","type":"quantitative","scale":{"domain":[-0.00142,0.00447],"nice":false,"zero":false},"axis":{"values":[-0.001,0,0.001,0.002,0.003,0.004],"tickCount":12,"labelOverlap":false,"labelExpr":"replace(format(datum.value,'.3f'),'−','-')","title":null}}}},
 {"data":{"name":"f8"},"mark":{"type":"area","color":"#999999","opacity":0.4,"interpolate":"monotone"},"encoding":{"x":{"field":"x","type":"quantitative"},"y":{"field":"lo","type":"quantitative"},"y2":{"field":"hi"}}},
 {"data":{"name":"f8"},"mark":{"type":"line","color":"red","strokeWidth":1.5,"interpolate":"monotone"},"encoding":{"x":{"field":"x","type":"quantitative"},"y":{"field":"f","type":"quantitative"}}}]},
{"width":141,"height":155,"layer":[
 {"data":{"name":"p9"},"mark":{"type":"circle","size":16,"color":"black","opacity":1},"encoding":{"x":{"field":"x","type":"quantitative","scale":{"domain":[430000,6360000],"nice":false,"zero":false},"axis":{"values":[1e6,2e6,3e6,4e6,5e6,6e6],"tickCount":12,"labelOverlap":false,"labelExpr":"replace(format(datum.value,'.0e'),'e+','e+0')","title":null}},"y":{"field":"y","type":"quantitative","scale":{"domain":[-0.0045,0.0209],"nice":false,"zero":false},"axis":{"values":[0,0.005,0.01,0.015,0.02],"tickCount":12,"labelOverlap":false,"format":".3f","title":null}}}},
 {"data":{"name":"f9"},"mark":{"type":"area","color":"#999999","opacity":0.4,"interpolate":"monotone"},"encoding":{"x":{"field":"x","type":"quantitative"},"y":{"field":"lo","type":"quantitative"},"y2":{"field":"hi"}}},
 {"data":{"name":"f9"},"mark":{"type":"line","color":"red","strokeWidth":1.5,"interpolate":"monotone"},"encoding":{"x":{"field":"x","type":"quantitative"},"y":{"field":"f","type":"quantitative"}}}]}
],
"columns":3,
"spacing":{"row":34,"column":46},
"bounds":"flush"
}
